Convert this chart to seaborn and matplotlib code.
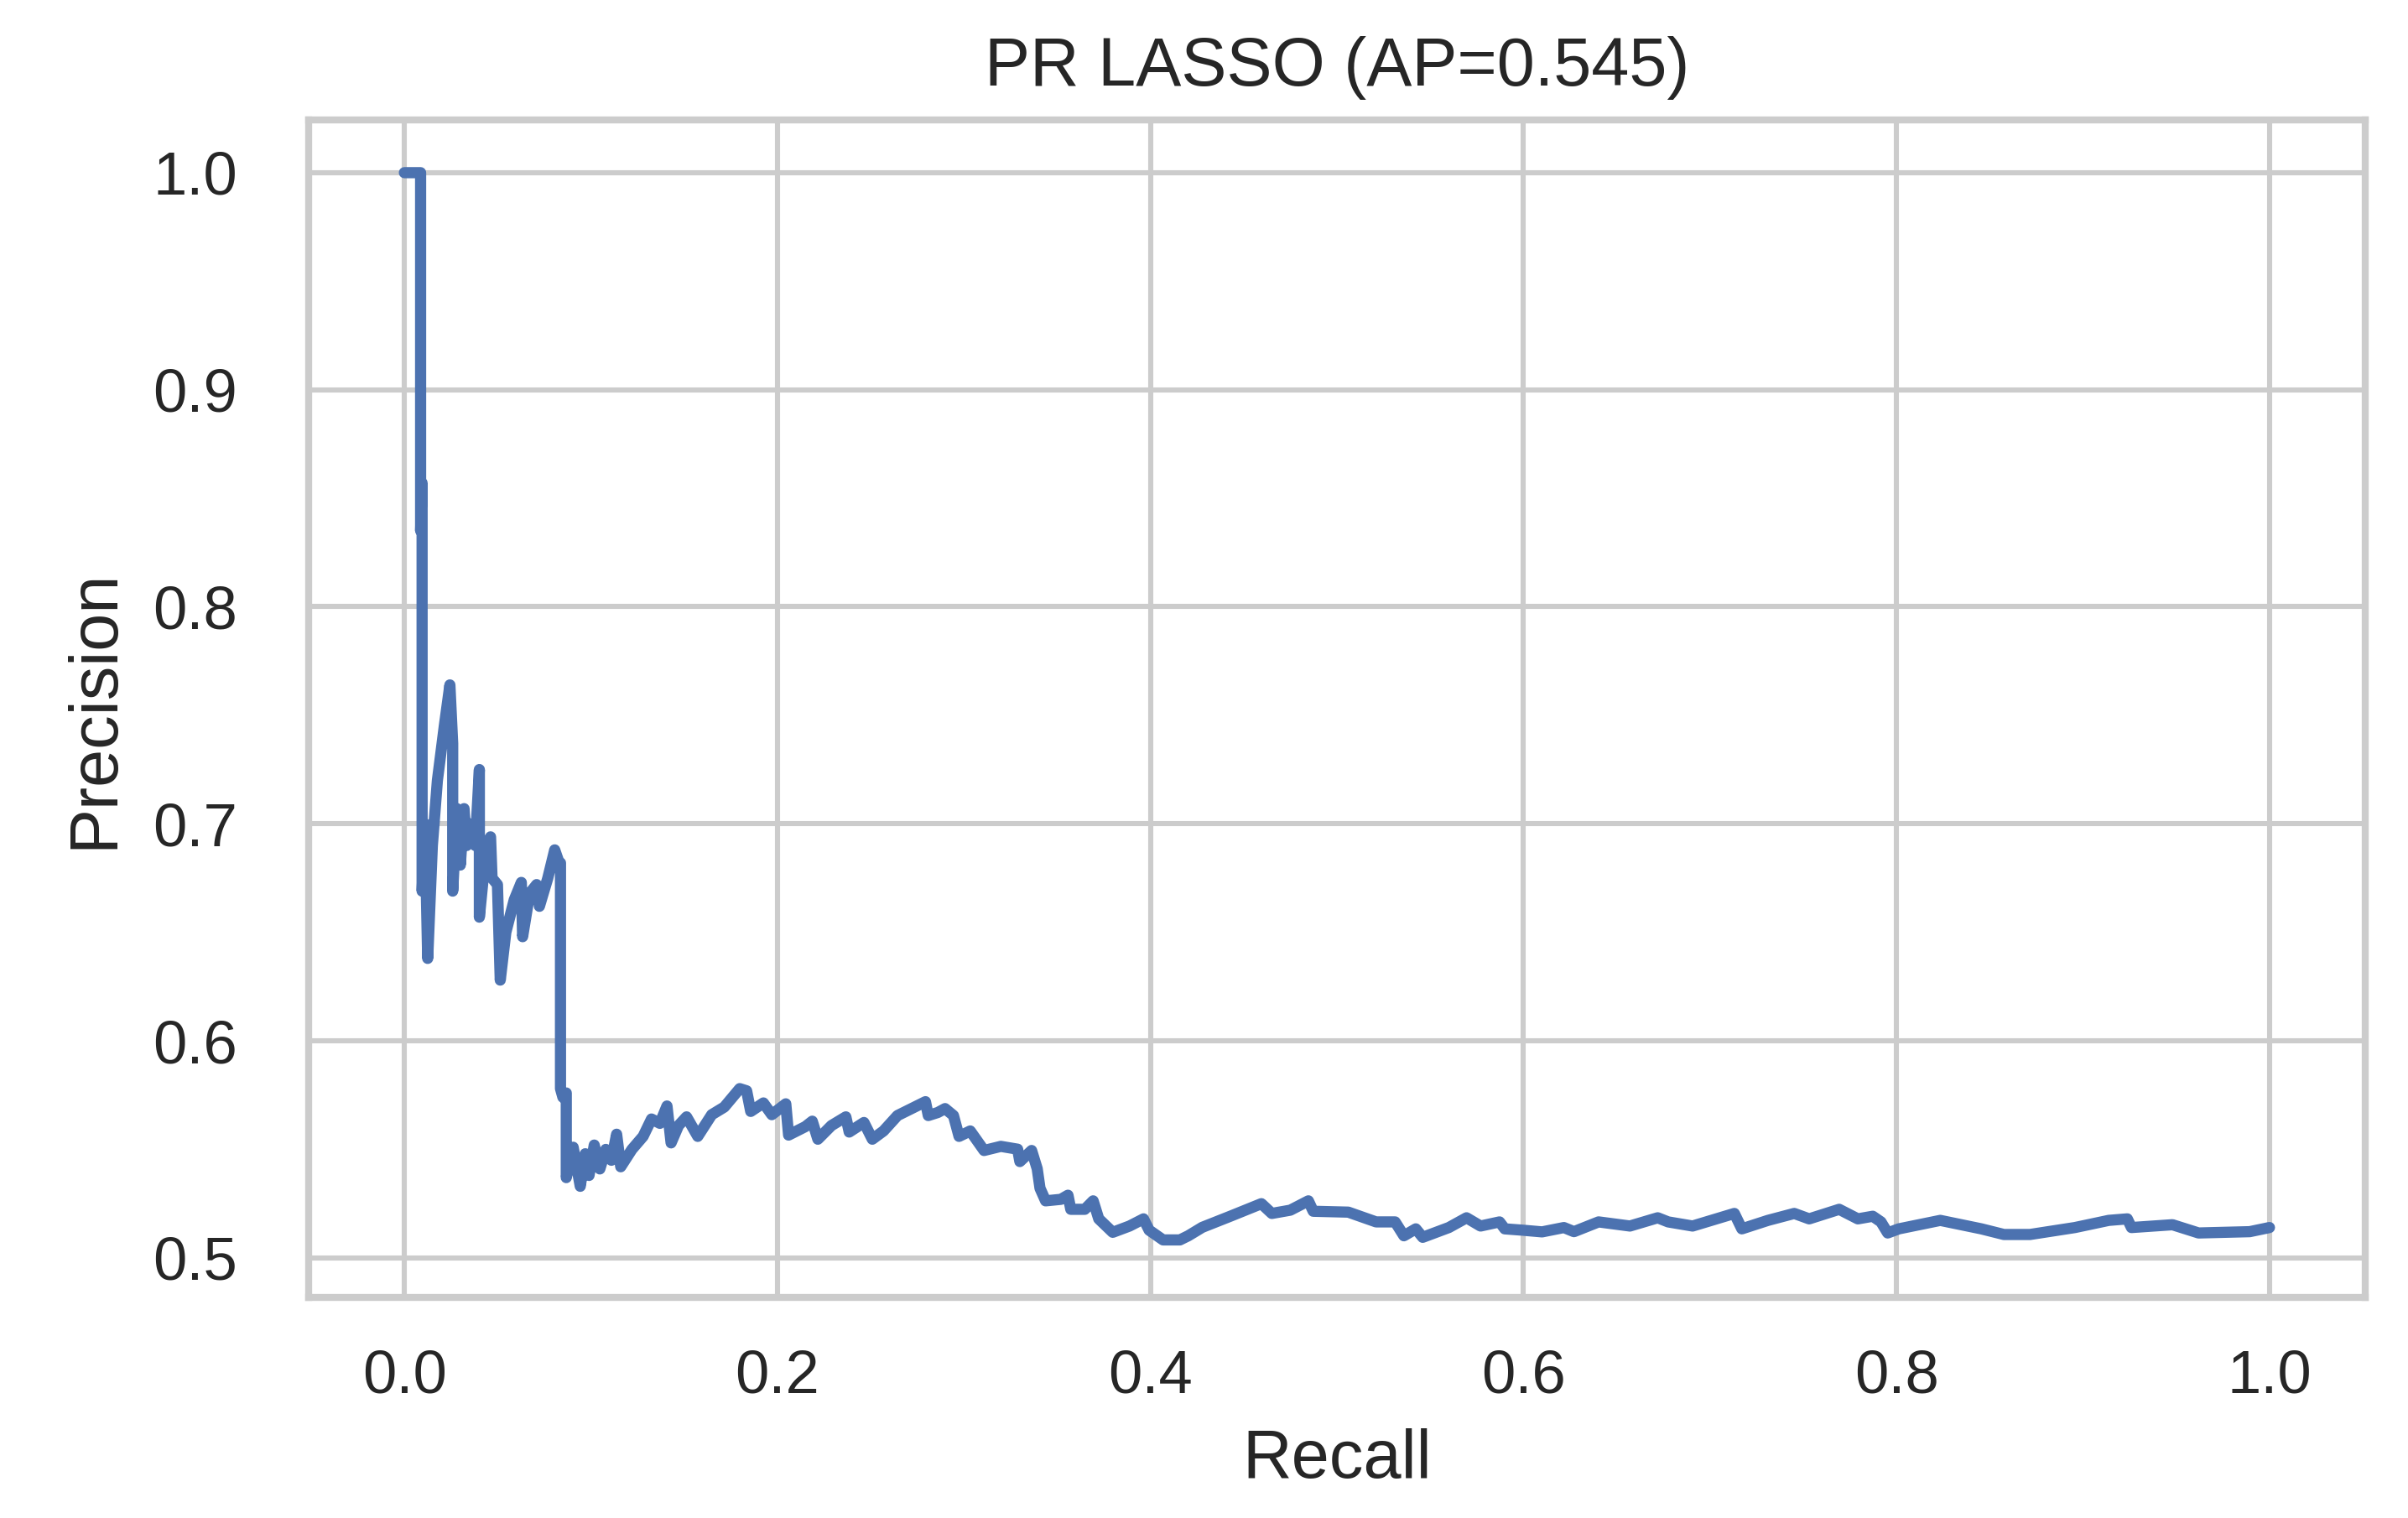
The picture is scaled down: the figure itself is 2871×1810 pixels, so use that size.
import matplotlib
matplotlib.use("Agg")
import matplotlib.pyplot as plt
import seaborn as sns

# PR curve points
recall = [
    0.0000, 0.0087, 0.0087, 0.0095, 0.0095, 0.0110, 0.0125, 0.0150, 0.0177, 0.0214,
    0.0244, 0.0259, 0.0259, 0.0282, 0.0300, 0.0320, 0.0334, 0.0349, 0.0380, 0.0402,
    0.0402, 0.0440, 0.0462, 0.0470, 0.0499, 0.0514, 0.0544, 0.0589, 0.0627, 0.0634,
    0.0672, 0.0709, 0.0724, 0.0769, 0.0806, 0.0830, 0.0837, 0.0837, 0.0850, 0.0868,
    0.0868, 0.0905, 0.0943, 0.0970, 0.0990, 0.1018, 0.1048, 0.1080, 0.1110, 0.1138,
    0.1160, 0.1220, 0.1280, 0.1325, 0.1370, 0.1408, 0.1430, 0.1470, 0.1513, 0.1573,
    0.1648, 0.1715, 0.1798, 0.1835, 0.1857, 0.1925, 0.1970, 0.2045, 0.2060, 0.2150,
    0.2187, 0.2217, 0.2290, 0.2367, 0.2385, 0.2464, 0.2509, 0.2569, 0.2644, 0.2719,
    0.2794, 0.2809, 0.2860, 0.2899, 0.2944, 0.2974, 0.3034, 0.3108, 0.3198, 0.3288,
    0.3300, 0.3363, 0.3393, 0.3408, 0.3438, 0.3520, 0.3558, 0.3573, 0.3648, 0.3693,
    0.3723, 0.3798, 0.3888, 0.3963, 0.3993, 0.4068, 0.4158, 0.4203, 0.4278, 0.4428,
    0.4595, 0.4651, 0.4750, 0.4847, 0.4873, 0.5061, 0.5210, 0.5312, 0.5359, 0.5423,
    0.5460, 0.5600, 0.5695, 0.5770, 0.5872, 0.5900, 0.5993, 0.6100, 0.6217, 0.6271,
    0.6403, 0.6571, 0.6720, 0.6776, 0.6907, 0.7131, 0.7171, 0.7311, 0.7452, 0.7532,
    0.7693, 0.7793, 0.7873, 0.7917, 0.7953, 0.8013, 0.8235, 0.8455, 0.8576, 0.8716,
    0.8957, 0.9138, 0.9238, 0.9260, 0.9480, 0.9620, 0.9894, 1.0000,
]
precision = [
    1.000, 1.000, 0.835, 0.857, 0.669, 0.700, 0.638, 0.690, 0.720, 0.745,
    0.764, 0.737, 0.669, 0.707, 0.681, 0.707, 0.690, 0.700, 0.690, 0.725,
    0.657, 0.690, 0.694, 0.675, 0.672, 0.628, 0.650, 0.665, 0.673, 0.648,
    0.668, 0.672, 0.662, 0.675, 0.688, 0.682, 0.682, 0.578, 0.574, 0.576,
    0.537, 0.551, 0.533, 0.548, 0.538, 0.552, 0.541, 0.550, 0.545, 0.557,
    0.542, 0.550, 0.556, 0.564, 0.562, 0.570, 0.553, 0.561, 0.565, 0.556,
    0.566, 0.5695, 0.578, 0.577, 0.5675, 0.5714, 0.566, 0.571, 0.5566, 0.5605,
    0.563, 0.5547, 0.561, 0.565, 0.558, 0.5624, 0.5547, 0.5585, 0.5656, 0.5688,
    0.572, 0.5656, 0.567, 0.5688, 0.5656, 0.556, 0.5585, 0.5495, 0.5514, 0.5501,
    0.5444, 0.5495, 0.5411, 0.5321, 0.5263, 0.527, 0.5289, 0.5224, 0.5224, 0.5263,
    0.518, 0.5118, 0.5147, 0.518, 0.5128, 0.5083, 0.5083, 0.5102, 0.5141, 0.5192,
    0.525, 0.5205, 0.522, 0.5263, 0.5215, 0.5211, 0.5166, 0.5166, 0.5102, 0.5134,
    0.5095, 0.514, 0.5185, 0.5147, 0.5166, 0.5134, 0.5128, 0.512, 0.514, 0.5121,
    0.5166, 0.5147, 0.5185, 0.5166, 0.5147, 0.5205, 0.5134, 0.5173, 0.5205, 0.518,
    0.5224, 0.518, 0.5192, 0.5166, 0.5115, 0.5134, 0.5173, 0.5134, 0.5108, 0.5108,
    0.514, 0.5173, 0.518, 0.514, 0.5153, 0.5115, 0.5121, 0.514,
]
title = "PR LASSO (AP=0.545)"
xticks = [0.0, 0.2, 0.4, 0.6, 0.8, 1.0]
yticks = [0.5, 0.6, 0.7, 0.8, 0.9, 1.0]

sns.set_theme(style="whitegrid", rc={
    "axes.edgecolor": ".8",
    "grid.color": ".8",
    "grid.linewidth": 2.2,
    "axes.linewidth": 3.0,
    "xtick.major.size": 0,
    "ytick.major.size": 0,
    "xtick.major.pad": 22,
    "ytick.major.pad": 30.6,
    "xtick.labelsize": 26.1,
    "ytick.labelsize": 26.1,
    "axes.labelsize": 29.2,
    "axes.titlesize": 29.2,
})
plt.rcParams["font.family"] = ["Liberation Sans", "DejaVu Sans"]

fig = plt.figure(figsize=(14.355, 9.05), dpi=200)
ax = fig.add_axes([0.1282, 0.1453, 0.854, 0.7757])

sns.lineplot(x=recall, y=precision, sort=False, estimator=None,
             color="#4C72B0", linewidth=4.8, ax=ax)

ax.set_xlim(-0.0513, 1.0513)
ax.set_ylim(0.4818, 1.0243)
ax.set_xticks(xticks)
ax.set_yticks(yticks)
ax.set_xlabel("Recall", labelpad=10)
ax.set_ylabel("Precision", labelpad=11)
ax.set_title(title, pad=14.8)

fig.savefig("out.png", dpi=200)
